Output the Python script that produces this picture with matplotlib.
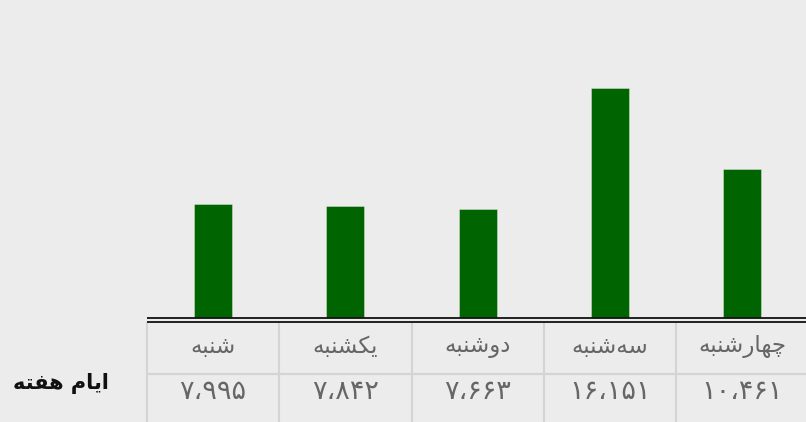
import matplotlib
matplotlib.use("Agg")
import matplotlib.pyplot as plt
from matplotlib import font_manager, ft2font
from matplotlib.font_manager import FontProperties

# ---- data ----
days = ['شنبه', 'یکشنبه', 'دوشنبه', 'سه\u200cشنبه', 'چهارشنبه']
values = [7995, 7842, 7663, 16151, 10461]
row_label = 'ایام هفته'

# ---- minimal Arabic/Persian shaping (matplotlib has no text shaping) ----
FORMS = {
    '\u0627': (0xFE8D, 0xFE8E, None, None),
    '\u0628': (0xFE8F, 0xFE90, 0xFE91, 0xFE92),
    '\u062A': (0xFE95, 0xFE96, 0xFE97, 0xFE98),
    '\u0686': (0xFB7A, 0xFB7B, 0xFB7C, 0xFB7D),
    '\u062F': (0xFEA9, 0xFEAA, None, None),
    '\u0631': (0xFEAD, 0xFEAE, None, None),
    '\u0633': (0xFEB1, 0xFEB2, 0xFEB3, 0xFEB4),
    '\u0634': (0xFEB5, 0xFEB6, 0xFEB7, 0xFEB8),
    '\u0641': (0xFED1, 0xFED2, 0xFED3, 0xFED4),
    '\u0645': (0xFEE1, 0xFEE2, 0xFEE3, 0xFEE4),
    '\u0646': (0xFEE5, 0xFEE6, 0xFEE7, 0xFEE8),
    '\u0647': (0xFEE9, 0xFEEA, 0xFEEB, 0xFEEC),
    '\u0648': (0xFEED, 0xFEEE, None, None),
    '\u06A9': (0xFB8E, 0xFB8F, 0xFB90, 0xFB91),
    '\u06CC': (0xFBFC, 0xFBFD, 0xFBFE, 0xFBFF),
}


def charmap_for(weight):
    path = font_manager.findfont(FontProperties(family='DejaVu Sans', weight=weight))
    return set(ft2font.FT2Font(path).get_charmap().keys())


def dual(c):
    f = FORMS.get(c)
    return f is not None and f[2] is not None


def joins(c):
    return c in FORMS


def shape(text, cmap):
    out = []
    n = len(text)
    for i, c in enumerate(text):
        if c not in FORMS:
            if c != '\u200c':
                out.append(c)
            continue
        prev = text[i - 1] if i > 0 else ''
        nxt = text[i + 1] if i + 1 < n else ''
        jp = dual(prev)
        jn = dual(c) and joins(nxt)
        f = FORMS[c]
        if jp and jn:
            cp = f[3]
        elif jp:
            cp = f[1]
        elif jn:
            cp = f[2]
        else:
            cp = f[0]
        out.append(chr(cp) if cp in cmap else c)
    return ''.join(reversed(out))


FA_DIGITS = str.maketrans('0123456789', '۰۱۲۳۴۵۶۷۸۹')


def fa_num(v):
    return f'{v:,}'.replace(',', '\u060C').translate(FA_DIGITS)


cm_reg = charmap_for('normal')
cm_bold = charmap_for('bold')

W, H = 806, 422
BG = '#ececec'
fig = plt.figure(figsize=(W / 100, H / 100), dpi=100, facecolor=BG)

left_px = 147
col_w = 132.3
right_px = left_px + col_w * 5
base_px = 318
scale = 230 / 16151  # px per unit

ax = fig.add_axes([left_px / W, (H - base_px) / H, (right_px - left_px) / W, base_px / H])
ax.set_facecolor(BG)
x = list(range(len(days)))
ax.bar(x, values, width=38 / col_w, color='#006400',
       edgecolor=(1, 1, 1, 0.35), linewidth=0.7)
ax.set_xlim(-0.5, 4.5)
ax.set_ylim(0, base_px / scale)
ax.axis('off')

# table axes, y measured in pixels from the top of the figure
tb_bottom = 430
tab = fig.add_axes([left_px / W, (H - tb_bottom) / H, (right_px - left_px) / W,
                    (tb_bottom - base_px + 2) / H])
tab.set_xlim(-0.5, 4.5)
tab.set_ylim(tb_bottom, base_px - 2)
tab.axis('off')
tab.patch.set_alpha(0)

grid_c = '#d4d4d4'
for xi in [i - 0.5 for i in range(6)]:
    tab.plot([xi, xi], [322, tb_bottom], color=grid_c, lw=1.5, solid_capstyle='butt', clip_on=False)
tab.plot([-0.5, 4.6], [373.8, 373.8], color=grid_c, lw=1.6, solid_capstyle='butt', clip_on=False)
tab.plot([-0.5, 4.6], [318.0, 318.0], color='#111111', lw=1.3, solid_capstyle='butt', clip_on=False)
tab.plot([-0.5, 4.6], [321.6, 321.6], color='#111111', lw=1.3, solid_capstyle='butt', clip_on=False)

txt_c = '#666666'
for i, (d, v) in enumerate(zip(days, values)):
    tab.text(i, 346, shape(d, cm_reg), ha='center', va='center', fontsize=16.5,
             color=txt_c, family='DejaVu Sans')
    tab.text(i, 392, fa_num(v), ha='center', va='center', fontsize=19.5,
             color=txt_c, family='DejaVu Sans')

fig.text(61 / W, 1 - 384 / H, shape(row_label, cm_bold), ha='center', va='center',
         fontsize=15, fontweight='bold', color='#111111', family='DejaVu Sans')

fig.savefig('out.png', dpi=100, facecolor=BG)
